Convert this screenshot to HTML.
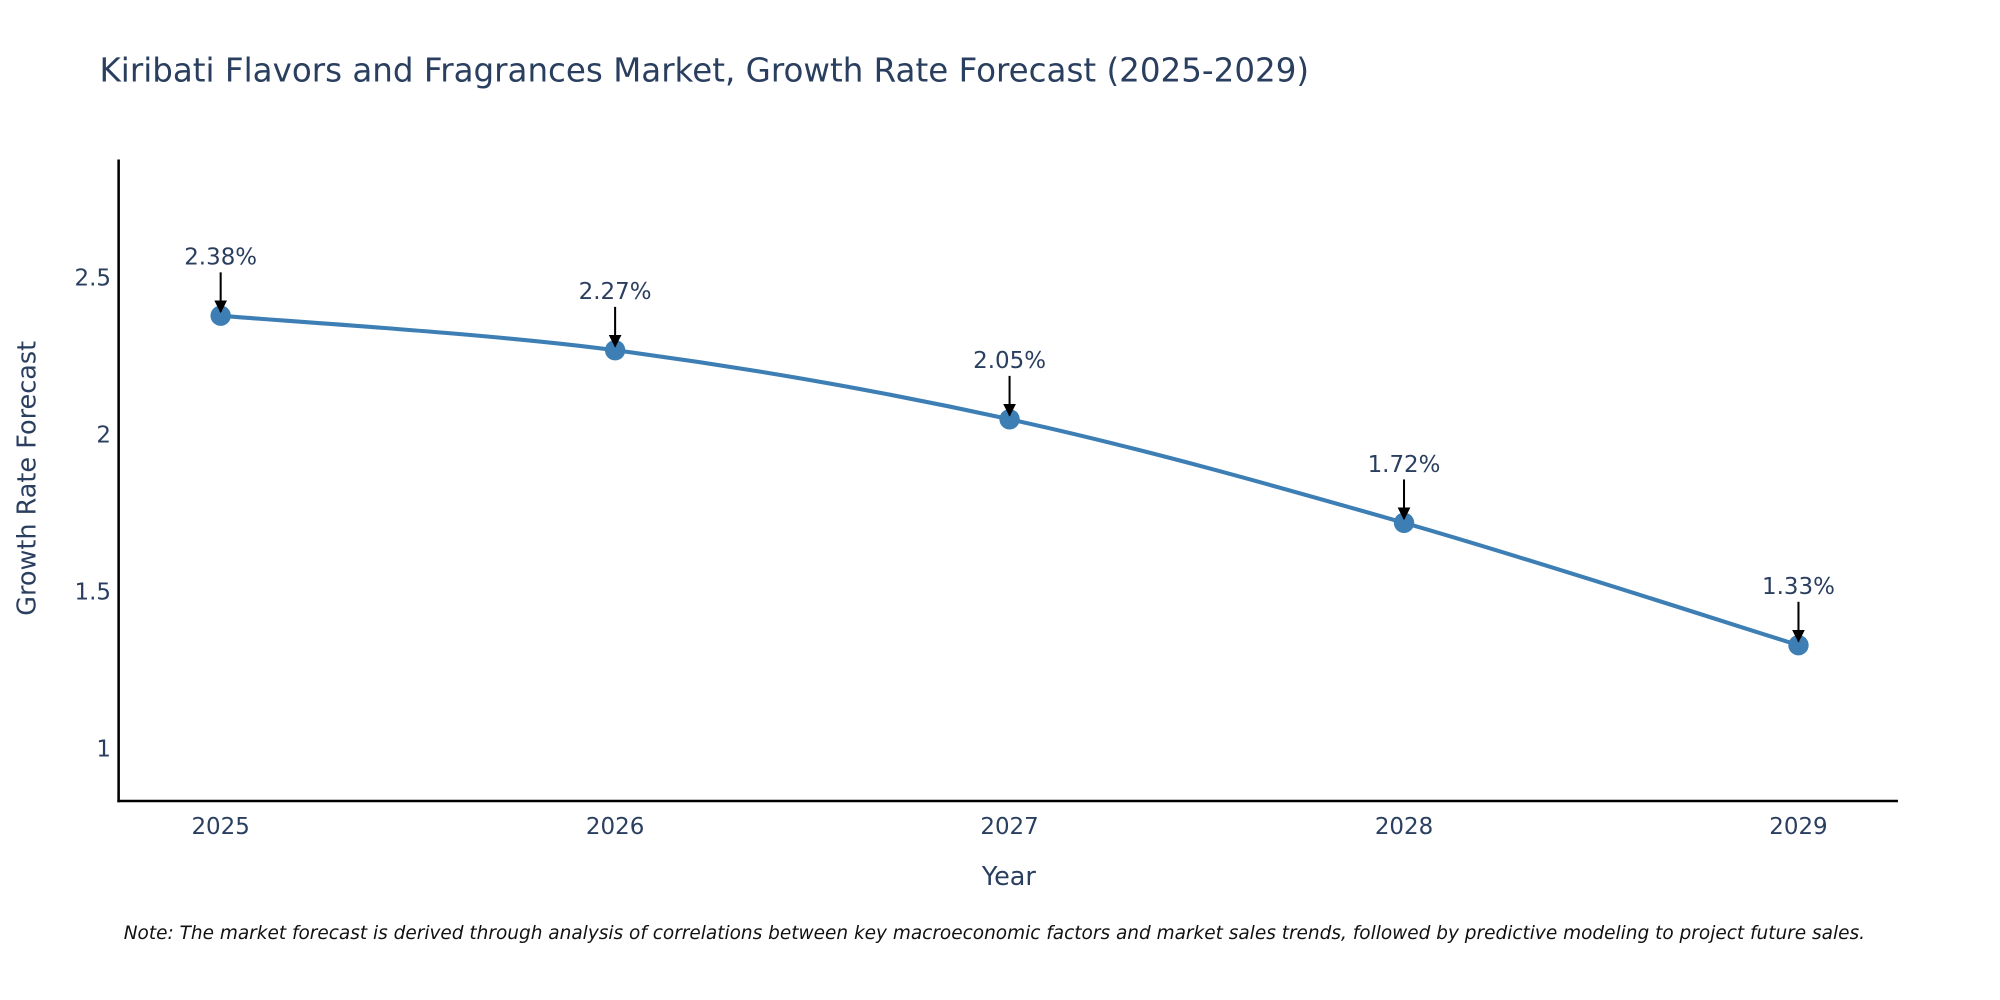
<!DOCTYPE html>
<html><head><meta charset="utf-8"><style>
html,body{margin:0;padding:0;background:#fff;overflow:hidden}
svg{display:block;font-family:"DejaVu Sans","Liberation Sans",sans-serif}
</style></head><body>
<svg width="2000" height="1000" viewBox="0 0 1568 784" xmlns="http://www.w3.org/2000/svg">
<defs><marker id="ah" markerWidth="10" markerHeight="10" refX="9" refY="5" orient="auto" markerUnits="userSpaceOnUse"><path d="M0,0 L10,5 L0,10 z" fill="#000"/></marker></defs>
<text x="78" y="64" font-size="25.5" fill="#2a3f5f">Kiribati Flavors and Fragrances Market, Growth Rate Forecast (2025-2029)</text>
<g id="yticks"></g>
<g id="xticks"></g>
<line x1="93" y1="125" x2="93" y2="629" stroke="#000" stroke-width="2"/>
<line x1="92" y1="628" x2="1488" y2="628" stroke="#000" stroke-width="2"/>
<text transform="translate(28,375) rotate(-90)" text-anchor="middle" font-size="20" fill="#2a3f5f">Growth Rate Forecast</text>
<text x="791" y="694" text-anchor="middle" font-size="20" fill="#2a3f5f">Year</text>
<g id="series"></g>
<text x="97" y="736" font-size="14.5" font-style="italic" fill="#111">Note: The market forecast is derived through analysis of correlations between key macroeconomic factors and market sales trends, followed by predictive modeling to project future sales.</text>
</svg>
<script>
const years = ["2025","2026","2027","2028","2029"];
const growth = [2.38, 2.27, 2.05, 1.72, 1.33];
const labels = ["2.38%","2.27%","2.05%","1.72%","1.33%"];
const yTicks = [1, 1.5, 2, 2.5];
const yTickLabels = ["1","1.5","2","2.5"];
const NS="http://www.w3.org/2000/svg";
function xs(i){return 173+i*309.25;}
function ys(v){return 587-(v-1)*246;}
function mk(t,a,p){const e=document.createElementNS(NS,t);for(const k in a)e.setAttribute(k,a[k]);p.appendChild(e);return e;}
const yg=document.getElementById('yticks'),xg=document.getElementById('xticks'),sg=document.getElementById('series');
yTicks.forEach((v,i)=>{const t=mk('text',{x:87,y:ys(v)+6,'text-anchor':'end','font-size':18,fill:'#2a3f5f'},yg);t.textContent=yTickLabels[i];

});
years.forEach((y,i)=>{const t=mk('text',{x:xs(i),y:654,'text-anchor':'middle','font-size':18,fill:'#2a3f5f'},xg);t.textContent=y;

});
const P=growth.map((v,i)=>[xs(i),ys(v)]);
let d=`M${P[0][0]},${P[0][1]}`;
for(let i=0;i<P.length-1;i++){const p0=P[Math.max(0,i-1)],p1=P[i],p2=P[i+1],p3=P[Math.min(P.length-1,i+2)];const s=1/6;
d+=` C${p1[0]+(p2[0]-p0[0])*s},${p1[1]+(p2[1]-p0[1])*s} ${p2[0]-(p3[0]-p1[0])*s},${p2[1]-(p3[1]-p1[1])*s} ${p2[0]},${p2[1]}`;}
const ln=mk('path',{d:d,fill:'none',stroke:'#3d7fb4','stroke-width':3.2},sg);


P.forEach((p,i)=>{const c=mk('circle',{cx:p[0],cy:p[1],r:8,fill:'#3d7fb4'},sg);


const a=mk('line',{x1:p[0],y1:p[1]-34,x2:p[0],y2:p[1]-3,stroke:'#000','stroke-width':1.6,'marker-end':'url(#ah)'},sg);


const t=mk('text',{x:p[0],y:p[1]-40,'text-anchor':'middle','font-size':18,fill:'#2a3f5f'},sg);t.textContent=labels[i];

});
</script>
</body></html>
